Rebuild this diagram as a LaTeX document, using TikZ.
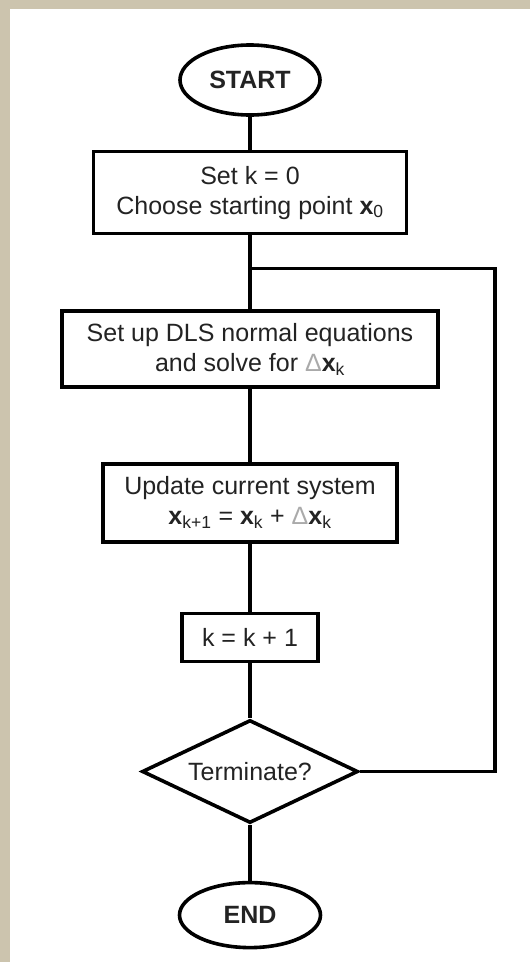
\documentclass[tikz,border=0pt]{standalone}
\usepackage{fontspec}
\setmainfont{Liberation Sans}
\usetikzlibrary{positioning, shapes.geometric}
\definecolor{paper}{RGB}{204,196,174}
\definecolor{deltagray}{RGB}{170,170,170}
\definecolor{inkgray}{RGB}{35,35,35}
\newcommand{\vx}[1]{\textbf{x}\textsubscript{#1}}
\newcommand{\dx}{{\color{deltagray}Δ}}

\begin{document}
\begin{tikzpicture}[
    x=1pt, y=-1pt,
    every node/.style={font=\fontsize{25}{30}\selectfont, text=inkgray},
    terminal/.style={ellipse, draw, line width=3.6pt, inner sep=0pt, minimum width=140pt, minimum height=70pt, font=\fontsize{25}{30}\selectfont\bfseries},
    process/.style={rectangle, draw, line width=3.6pt, align=center, inner sep=0pt},
    decision/.style={diamond, draw, line width=3.6pt, aspect=2, inner sep=0pt, minimum width=216pt, minimum height=103pt},
    link/.style={line width=3.6pt}
]

% page frame
\fill[paper] (0,0) rectangle (530,962);
\fill[white] (10,9) rectangle (530,962);
\useasboundingbox (0,0) rectangle (530,962);

\node[terminal] (start) at (250,80) {START};
\node[process, below=33pt of start, minimum width=313pt, minimum height=82pt] (init) {Set k = 0\\Choose starting point \vx{0}};
\coordinate[below=33pt of init] (join);
\node[process, below=74pt of init, minimum width=376pt, minimum height=76pt] (normal) {Set up DLS normal equations\\and solve for \dx\vx{k}};
\node[process, below=73pt of normal, minimum width=294pt, minimum height=78pt] (update) {Update current system\\\vx{k+1} = \vx{k} + \dx\vx{k}};
\node[process, below=68pt of update, minimum width=136pt, minimum height=48pt] (incr) {k = k + 1};
\node[decision, below=55pt of incr] (term) {Terminate?};
\node[terminal, below=56pt of term, minimum width=141pt, minimum height=65pt] (end) {END};

\draw[link] (start) -- (init);
\draw[link] (init) -- (normal);
\draw[link] (normal) -- (update);
\draw[link] (update) -- (incr);
\draw[link] (incr) -- (term);
\draw[link] (term) -- (end);
% loop back for the next iteration
\draw[link] (term.east) -| ([xshift=245pt]join) -- (join);

\end{tikzpicture}
\end{document}
